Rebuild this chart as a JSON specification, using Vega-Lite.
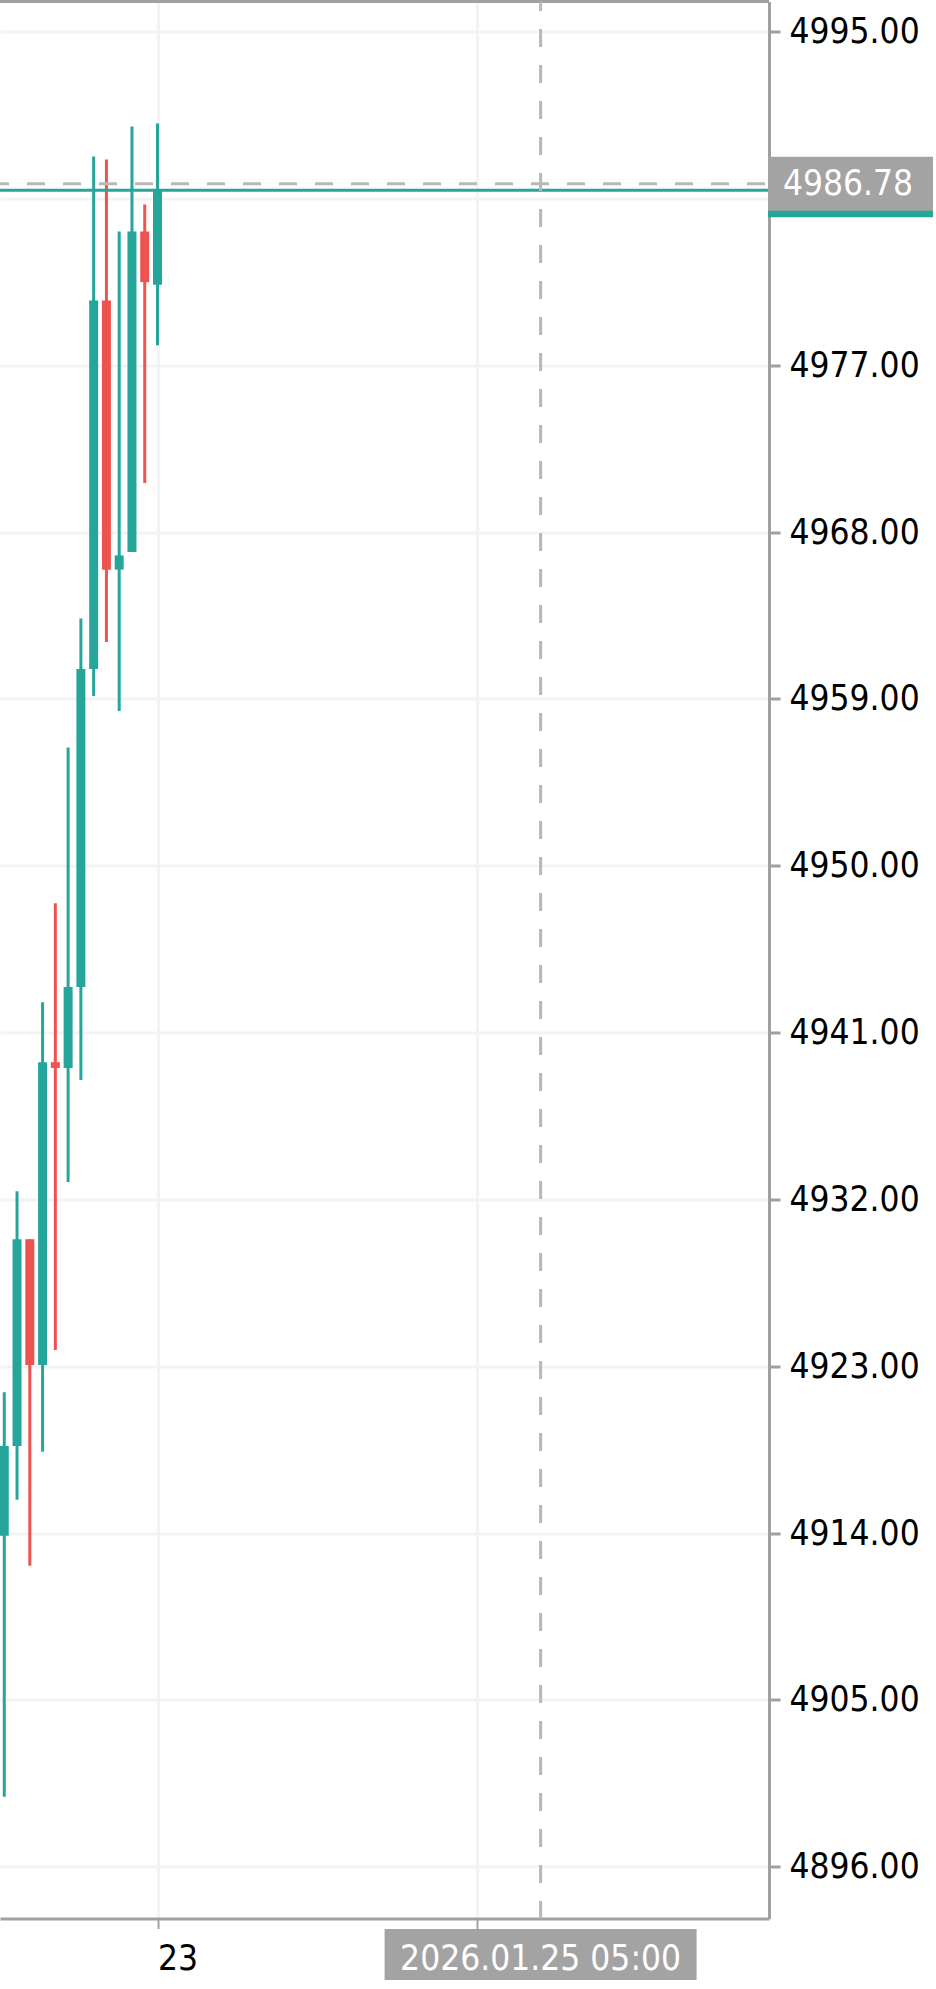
{
  "$schema": "https://vega.github.io/schema/vega-lite/v6.json",
  "width": 769,
  "height": 1917,
  "autosize": {"type": "none"},
  "padding": {"left": 0, "top": 1.5, "right": 167, "bottom": 70.5},
  "background": "white",
  "config": {"font": "DejaVu Sans Condensed, Liberation Sans, sans-serif", "view": {"stroke": null}, "scale": {"continuousPadding": 0}},
  "datasets": {
    "candles": [
      {"i": -12, "open": 4913.85, "high": 4921.60, "low": 4899.77, "close": 4918.70},
      {"i": -11, "open": 4918.70, "high": 4932.44, "low": 4915.79, "close": 4929.85},
      {"i": -10, "open": 4929.85, "high": 4929.85, "low": 4912.23, "close": 4923.07},
      {"i": -9, "open": 4923.07, "high": 4942.63, "low": 4918.38, "close": 4939.40},
      {"i": -8, "open": 4939.40, "high": 4947.97, "low": 4923.88, "close": 4939.09},
      {"i": -7, "open": 4939.09, "high": 4956.38, "low": 4932.94, "close": 4943.46},
      {"i": -6, "open": 4943.46, "high": 4963.34, "low": 4938.44, "close": 4960.61},
      {"i": -5, "open": 4960.61, "high": 4988.26, "low": 4959.15, "close": 4980.49},
      {"i": -4, "open": 4980.49, "high": 4988.10, "low": 4962.06, "close": 4965.97},
      {"i": -3, "open": 4965.97, "high": 4984.21, "low": 4958.34, "close": 4966.74},
      {"i": -2, "open": 4966.92, "high": 4989.88, "low": 4966.92, "close": 4984.21},
      {"i": -1, "open": 4984.21, "high": 4985.67, "low": 4970.64, "close": 4981.48},
      {"i": 0, "open": 4981.34, "high": 4990.04, "low": 4978.07, "close": 4986.44}
    ],
    "bid": [{"price": 4986.44}],
    "crosshair": [{"i": 30, "price": 4986.78, "time": "2026.01.25 05:00"}]
  },
  "layer": [
    {
      "data": {"name": "candles"},
      "mark": {"type": "rule", "strokeWidth": 3},
      "encoding": {
        "x": {
          "field": "i", "type": "quantitative",
          "scale": {"domain": [-12.334, 47.886], "nice": false, "zero": false, "padding": 0},
          "axis": {
            "orient": "bottom", "values": [0, 25], "labelExpr": "datum.value == 0 ? '23' : ''",
            "title": null, "grid": true, "gridColor": "#f3f2f5", "gridWidth": 3,
            "domain": true, "domainColor": "#a0a0a0", "domainWidth": 3,
            "ticks": true, "tickSize": 10, "tickColor": "#a0a0a0", "tickWidth": 2,
            "labelAlign": "left", "labelBaseline": "top", "labelPadding": 13,
            "labelFontSize": 35, "labelColor": "#000000", "labelFlush": false, "labelOverlap": false
          }
        },
        "y": {
          "field": "low", "type": "quantitative",
          "scale": {"domain": [4893.206, 4996.618], "nice": false, "zero": false, "padding": 0},
          "axis": {
            "orient": "right",
            "values": [4896, 4905, 4914, 4923, 4932, 4941, 4950, 4959, 4968, 4977, 4986, 4995],
            "labelExpr": "datum.value == 4986 ? '' : format(datum.value, '.2f')",
            "title": null, "grid": true, "gridColor": "#f3f2f5", "gridWidth": 3,
            "domain": true, "domainColor": "#a0a0a0", "domainWidth": 3,
            "ticks": true, "tickSize": 11, "tickColor": "#a0a0a0", "tickWidth": 3,
            "labelAlign": "left", "labelBaseline": "middle", "labelPadding": 9,
            "labelFontSize": 35, "labelColor": "#000000", "labelFlush": false, "labelOverlap": false
          }
        },
        "y2": {"field": "high"},
        "color": {"condition": {"test": "datum.close >= datum.open", "value": "#26a69a"}, "value": "#ef5350"}
      }
    },
    {
      "data": {"name": "candles"},
      "mark": {"type": "bar", "size": 9},
      "encoding": {
        "x": {"field": "i", "type": "quantitative", "scale": {"domain": [-12.334, 47.886], "nice": false, "zero": false, "padding": 0}},
        "y": {"field": "open", "type": "quantitative", "scale": {"domain": [4893.206, 4996.618], "nice": false, "zero": false, "padding": 0}},
        "y2": {"field": "close"},
        "color": {"condition": {"test": "datum.close >= datum.open", "value": "#26a69a"}, "value": "#ef5350"}
      }
    },
    {
      "data": {"name": "candles"},
      "mark": {"type": "rule", "strokeWidth": 3, "color": "#a0a0a0"},
      "encoding": {
        "x": {"datum": -12.334, "type": "quantitative", "scale": {"domain": [-12.334, 47.886], "nice": false, "zero": false, "padding": 0}},
        "x2": {"datum": 47.886},
        "y": {"datum": 4996.618, "type": "quantitative", "scale": {"domain": [4893.206, 4996.618], "nice": false, "zero": false, "padding": 0}}
      }
    },
    {
      "data": {"name": "bid"},
      "mark": {"type": "rule", "strokeWidth": 3, "color": "#26a69a"},
      "encoding": {
        "x": {"datum": -12.334, "type": "quantitative", "scale": {"domain": [-12.334, 47.886], "nice": false, "zero": false, "padding": 0}},
        "x2": {"datum": 47.886},
        "y": {"field": "price", "type": "quantitative", "scale": {"domain": [4893.206, 4996.618], "nice": false, "zero": false, "padding": 0}}
      }
    },
    {
      "data": {"name": "crosshair"},
      "mark": {"type": "rule", "strokeWidth": 3, "color": "#b8b8b8", "strokeDash": [18, 18], "strokeDashOffset": 9},
      "encoding": {
        "x": {"datum": -12.334, "type": "quantitative", "scale": {"domain": [-12.334, 47.886], "nice": false, "zero": false, "padding": 0}},
        "x2": {"datum": 47.886},
        "y": {"field": "price", "type": "quantitative", "scale": {"domain": [4893.206, 4996.618], "nice": false, "zero": false, "padding": 0}}
      }
    },
    {
      "data": {"name": "crosshair"},
      "mark": {"type": "rule", "strokeWidth": 3, "color": "#b8b8b8", "strokeDash": [18, 18], "strokeDashOffset": 8.5},
      "encoding": {
        "x": {"field": "i", "type": "quantitative", "scale": {"domain": [-12.334, 47.886], "nice": false, "zero": false, "padding": 0}},
        "y": {"datum": 4996.618, "type": "quantitative", "scale": {"domain": [4893.206, 4996.618], "nice": false, "zero": false, "padding": 0}},
        "y2": {"datum": 4893.206}
      }
    },
    {
      "data": {"name": "bid"},
      "mark": {"type": "bar", "orient": "horizontal", "size": 54, "color": "#26a69a"},
      "encoding": {
        "x": {"datum": 47.81, "type": "quantitative", "scale": {"domain": [-12.334, 47.886], "nice": false, "zero": false, "padding": 0}},
        "x2": {"datum": 60.73},
        "y": {"field": "price", "type": "quantitative", "scale": {"domain": [4893.206, 4996.618], "nice": false, "zero": false, "padding": 0}}
      }
    },
    {
      "data": {"name": "crosshair"},
      "mark": {"type": "bar", "orient": "horizontal", "size": 54, "color": "#a3a3a3"},
      "encoding": {
        "x": {"datum": 47.81, "type": "quantitative", "scale": {"domain": [-12.334, 47.886], "nice": false, "zero": false, "padding": 0}},
        "x2": {"datum": 60.73},
        "y": {"field": "price", "type": "quantitative", "scale": {"domain": [4893.206, 4996.618], "nice": false, "zero": false, "padding": 0}}
      }
    },
    {
      "data": {"name": "crosshair"},
      "mark": {"type": "text", "align": "left", "baseline": "middle", "fontSize": 35, "color": "#ffffff"},
      "encoding": {
        "x": {"datum": 48.98, "type": "quantitative", "scale": {"domain": [-12.334, 47.886], "nice": false, "zero": false, "padding": 0}},
        "y": {"field": "price", "type": "quantitative", "scale": {"domain": [4893.206, 4996.618], "nice": false, "zero": false, "padding": 0}},
        "text": {"field": "price", "type": "quantitative", "format": ".2f"}
      }
    },
    {
      "data": {"name": "crosshair"},
      "mark": {"type": "bar", "size": 312, "color": "#a3a3a3"},
      "encoding": {
        "x": {"field": "i", "type": "quantitative", "scale": {"domain": [-12.334, 47.886], "nice": false, "zero": false, "padding": 0}},
        "y": {"datum": 4892.64, "type": "quantitative", "scale": {"domain": [4893.206, 4996.618], "nice": false, "zero": false, "padding": 0}},
        "y2": {"datum": 4889.89}
      }
    },
    {
      "data": {"name": "crosshair"},
      "mark": {"type": "text", "align": "center", "baseline": "middle", "fontSize": 35, "color": "#ffffff"},
      "encoding": {
        "x": {"field": "i", "type": "quantitative", "scale": {"domain": [-12.334, 47.886], "nice": false, "zero": false, "padding": 0}},
        "y": {"datum": 4891.03, "type": "quantitative", "scale": {"domain": [4893.206, 4996.618], "nice": false, "zero": false, "padding": 0}},
        "text": {"field": "time", "type": "nominal"}
      }
    }
  ]
}
